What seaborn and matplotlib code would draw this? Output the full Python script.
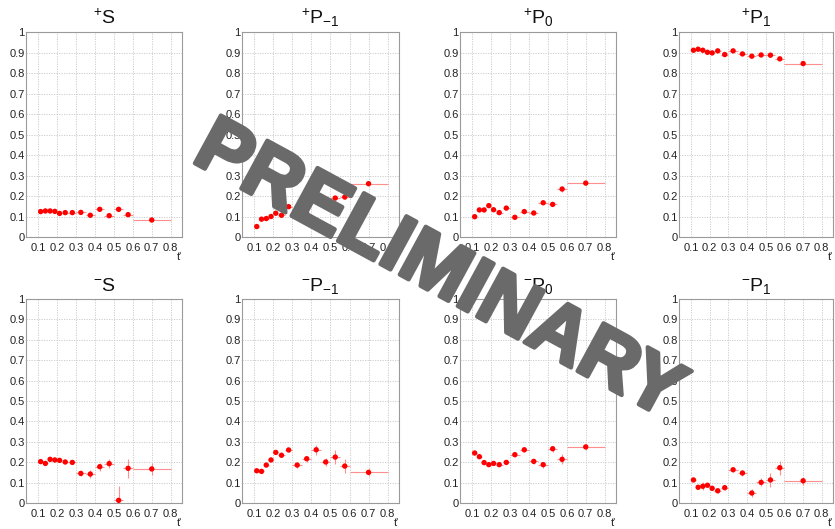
import numpy as np
import pandas as pd
import matplotlib
matplotlib.use("Agg")
import matplotlib.pyplot as plt
import matplotlib.patheffects as pe
from matplotlib.ticker import MultipleLocator, FixedLocator
import seaborn as sns

# t' bins (centres and half widths)
t_center = [0.1125, 0.1375, 0.1625, 0.1875, 0.2125, 0.2425, 0.28, 0.325, 0.375, 0.425, 0.475, 0.525, 0.575, 0.70]
t_halfwidth = [0.0125, 0.0125, 0.0125, 0.0125, 0.0125, 0.0175, 0.02, 0.025, 0.025, 0.025, 0.025, 0.025, 0.025, 0.10]

# positive reflectivity
plus_S = [0.124, 0.127, 0.127, 0.125, 0.115, 0.119, 0.119, 0.120, 0.106, 0.135, 0.104, 0.135, 0.109, 0.083]
plus_S_err = [0.004, 0.004, 0.004, 0.004, 0.004, 0.004, 0.004, 0.005, 0.005, 0.006, 0.006, 0.007, 0.008, 0.006]
plus_Pm1 = [0.051, 0.087, 0.090, 0.100, 0.116, 0.106, 0.148, 0.130, 0.114, 0.200, 0.170, 0.190, 0.195, 0.260]
plus_Pm1_err = [0.004, 0.004, 0.004, 0.004, 0.004, 0.004, 0.005, 0.005, 0.006, 0.006, 0.007, 0.008, 0.009, 0.007]
plus_P0 = [0.099, 0.132, 0.132, 0.153, 0.133, 0.119, 0.141, 0.096, 0.124, 0.117, 0.167, 0.159, 0.234, 0.263]
plus_P0_err = [0.004, 0.004, 0.004, 0.004, 0.004, 0.004, 0.005, 0.005, 0.007, 0.007, 0.008, 0.009, 0.014, 0.007]
plus_P1 = [0.911, 0.916, 0.911, 0.901, 0.898, 0.908, 0.890, 0.908, 0.893, 0.882, 0.888, 0.887, 0.869, 0.846]
plus_P1_err = [0.004, 0.004, 0.004, 0.004, 0.004, 0.004, 0.005, 0.005, 0.005, 0.006, 0.006, 0.007, 0.008, 0.006]

# negative reflectivity
minus_S = [0.203, 0.194, 0.214, 0.211, 0.209, 0.201, 0.199, 0.145, 0.142, 0.178, 0.193, 0.013, 0.170, 0.167]
minus_S_err = [0.006, 0.006, 0.006, 0.006, 0.007, 0.007, 0.008, 0.012, 0.020, 0.020, 0.022, 0.070, 0.045, 0.030]
minus_Pm1 = [0.158, 0.155, 0.186, 0.211, 0.248, 0.234, 0.260, 0.186, 0.217, 0.261, 0.201, 0.225, 0.181, 0.150]
minus_Pm1_err = [0.006, 0.006, 0.006, 0.007, 0.008, 0.008, 0.009, 0.015, 0.015, 0.025, 0.020, 0.035, 0.035, 0.020]
minus_P0 = [0.245, 0.227, 0.198, 0.188, 0.194, 0.188, 0.199, 0.237, 0.261, 0.204, 0.188, 0.266, 0.214, 0.275]
minus_P0_err = [0.006, 0.006, 0.006, 0.006, 0.007, 0.007, 0.008, 0.010, 0.012, 0.012, 0.015, 0.015, 0.025, 0.015]
minus_P1 = [0.113, 0.077, 0.082, 0.087, 0.072, 0.060, 0.075, 0.163, 0.147, 0.049, 0.101, 0.113, 0.173, 0.109]
minus_P1_err = [0.006, 0.008, 0.020, 0.010, 0.010, 0.010, 0.012, 0.012, 0.015, 0.020, 0.020, 0.035, 0.035, 0.020]

panel_titles = [r"$^{+}$S", r"$^{+}$P$_{-1}$", r"$^{+}$P$_{0}$", r"$^{+}$P$_{1}$",
                r"$^{-}$S", r"$^{-}$P$_{-1}$", r"$^{-}$P$_{0}$", r"$^{-}$P$_{1}$"]
panel_values = [plus_S, plus_Pm1, plus_P0, plus_P1, minus_S, minus_Pm1, minus_P0, minus_P1]
panel_errors = [plus_S_err, plus_Pm1_err, plus_P0_err, plus_P1_err,
                minus_S_err, minus_Pm1_err, minus_P0_err, minus_P1_err]

x_ticks = [0.1, 0.2, 0.3, 0.4, 0.5, 0.6, 0.7, 0.8]
x_ticklabels = ["0.1", "0.2", "0.3", "0.4", "0.5", "0.6", "0.7", "0.8"]
y_ticks = [0, 0.1, 0.2, 0.3, 0.4, 0.5, 0.6, 0.7, 0.8, 0.9, 1.0]
y_ticklabels = ["0", "0.1", "0.2", "0.3", "0.4", "0.5", "0.6", "0.7", "0.8", "0.9", "1"]

sns.set_style("white")
plt.rcParams["font.family"] = ["Liberation Sans", "DejaVu Sans"]
plt.rcParams["mathtext.fontset"] = "custom"
plt.rcParams["mathtext.rm"] = "Liberation Sans"
plt.rcParams["mathtext.it"] = "Liberation Sans"
plt.rcParams["mathtext.default"] = "regular"

W, H = 835, 529
fig = plt.figure(figsize=(W / 100, H / 100), dpi=100)
fig.patch.set_facecolor("white")

# axes boxes in pixels: (left, right) per column, (top, bottom) per row
col_px = [(26, 182), (242, 399), (460, 616), (679, 833)]
row_px = [(32, 237), (299, 503)]

for i in range(8):
    r, c = divmod(i, 4)
    l, rr = col_px[c]
    t, b = row_px[r]
    ax = fig.add_axes([l / W, 1 - b / H, (rr - l) / W, (b - t) / H])
    df = pd.DataFrame({"t": t_center, "v": panel_values[i],
                       "dt": t_halfwidth, "dv": panel_errors[i]})
    ax.errorbar(df["t"], df["v"], xerr=df["dt"], yerr=df["dv"], fmt="none",
                ecolor="#ff8f8f", elinewidth=0.8, capsize=0, zorder=2)
    sns.scatterplot(data=df, x="t", y="v", ax=ax, color="#ff0000", s=15,
                    edgecolor="none", zorder=3, legend=False)
    ax.set_xlim(0.035, 0.86)
    ax.set_ylim(0, 1)
    ax.xaxis.set_major_locator(FixedLocator(x_ticks))
    ax.set_xticklabels(x_ticklabels)
    ax.yaxis.set_major_locator(FixedLocator(y_ticks))
    ax.set_yticklabels(y_ticklabels)
    ax.xaxis.set_minor_locator(MultipleLocator(0.02))
    ax.yaxis.set_minor_locator(MultipleLocator(0.02))
    ax.tick_params(axis="both", which="major", direction="in", length=5, width=0.6,
                   color="#777777", labelsize=8, labelcolor="#222222", pad=4)
    ax.tick_params(axis="both", which="minor", direction="in", length=2.5, width=0.5,
                   color="#777777")
    ax.tick_params(axis="y", pad=1)
    ax.grid(True, which="major", color="#c8c8c8", linestyle=(0, (1.5, 1.5)), linewidth=0.6)
    for sp in ax.spines.values():
        sp.set_color("#9a9a9a")
        sp.set_linewidth(0.8)
    ax.set_xlabel("t'", fontsize=8, color="#222222", ha="right", va="top")
    ax.xaxis.set_label_coords(1.0, -15 / (b - t))
    ax.set_ylabel("")
    ax.set_title(panel_titles[i], fontsize=14, pad=6, color="#111111")

fig.text(438 / W, 1 - 272 / H, "PRELIMINARY", fontsize=57, fontweight="bold",
         color="#6a6a6a", rotation=-28.5, ha="center", va="center",
         rotation_mode="anchor", zorder=10,
         path_effects=[pe.withStroke(linewidth=3, foreground="#6a6a6a")])

fig.savefig("out.png", dpi=100, facecolor="white")
